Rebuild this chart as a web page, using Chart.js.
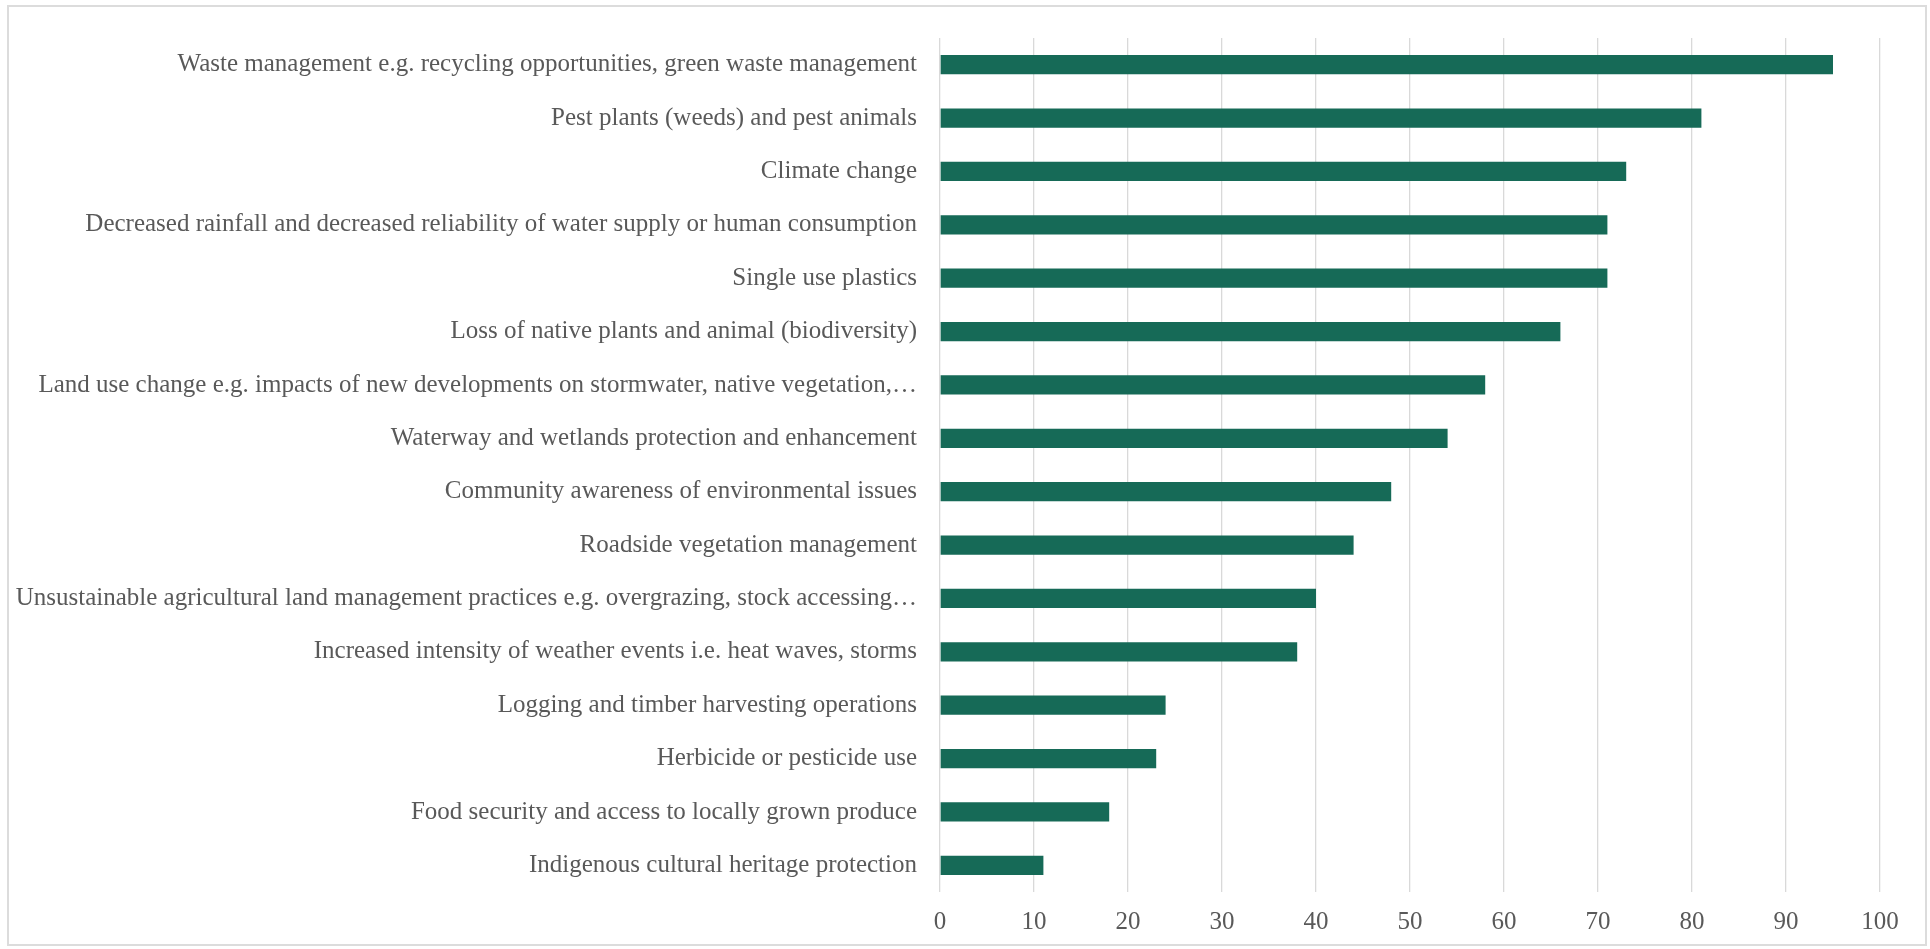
<!DOCTYPE html>
<html>
<head>
<meta charset="utf-8">
<script src="https://cdn.jsdelivr.net/npm/chart.js@4.4.1/dist/chart.umd.min.js"></script>
<style>
  html, body { margin: 0; padding: 0; background: #ffffff; }
  #wrap { position: relative; width: 1930px; height: 949px; overflow: hidden; }
  #frame { position: absolute; left: 7px; top: 5px; width: 1920px; height: 941px; border: 2px solid #dcdcdc; box-sizing: border-box; pointer-events: none; }
  canvas { position: absolute; left: 0; top: 0; }
</style>
</head>
<body>
<div id="wrap">
  <canvas id="c" width="1930" height="949"></canvas>
  <div id="frame"></div>
</div>
<script>
const categories = [
  "Waste management e.g. recycling opportunities, green waste management",
  "Pest plants (weeds) and pest animals",
  "Climate change",
  "Decreased rainfall and decreased reliability of water supply or human consumption",
  "Single use plastics",
  "Loss of native plants and animal (biodiversity)",
  "Land use change e.g. impacts of new developments on stormwater, native vegetation,\u2026",
  "Waterway and wetlands protection and enhancement",
  "Community awareness of environmental issues",
  "Roadside vegetation management",
  "Unsustainable agricultural land management practices e.g. overgrazing, stock accessing\u2026",
  "Increased intensity of weather events i.e. heat waves, storms",
  "Logging and timber harvesting operations",
  "Herbicide or pesticide use",
  "Food security and access to locally grown produce",
  "Indigenous cultural heritage protection"
];
const values = [95, 81, 73, 71, 71, 66, 58, 54, 48, 44, 40, 38, 24, 23, 18, 11];
const xMin = 0;
const xMax = 100;
const xStep = 10;

const FONT = "'Liberation Serif', 'Times New Roman', serif";
const TEXT = '#595959';
const GRID = '#d9d9d9';

new Chart(document.getElementById('c'), {
  type: 'bar',
  data: {
    labels: categories,
    datasets: [{
      data: values,
      backgroundColor: '#166a57',
      borderWidth: 0,
      barPercentage: 0.36,
      categoryPercentage: 1.0
    }]
  },
  options: {
    indexAxis: 'y',
    responsive: false,
    animation: false,
    events: [],
    layout: { padding: { left: 0, right: 50, top: 35, bottom: 0 } },
    plugins: { legend: { display: false }, tooltip: { enabled: false }, title: { display: false } },
    scales: {
      x: {
        min: xMin, max: xMax,
        grid: { color: GRID, lineWidth: 1.3, drawTicks: false },
        border: { display: false },
        ticks: { stepSize: xStep, color: TEXT, font: { family: FONT, size: 25 }, padding: 15, maxRotation: 0 },
        afterFit: (s) => { s.height = 57; }
      },
      y: {
        grid: { display: false, drawTicks: false },
        border: { display: false },
        ticks: { autoSkip: false, color: TEXT, font: { family: FONT, size: 25 }, padding: 23 },
        afterFit: (s) => { s.width = 940; }
      }
    }
  }
});
</script>
</body>
</html>
